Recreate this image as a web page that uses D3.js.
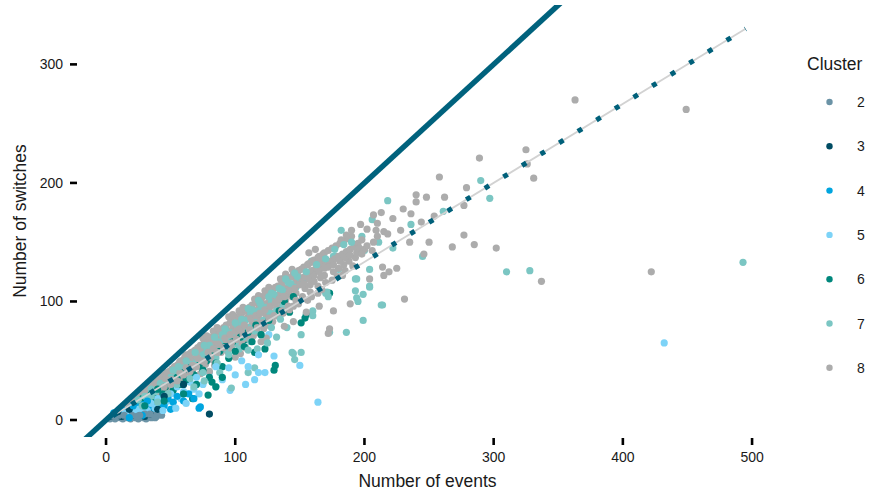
<!DOCTYPE html>
<html>
<head>
<meta charset="utf-8">
<script src="https://d3js.org/d3.v7.min.js"></script>
<style>
  body { margin: 0px; background: #fff; }
  text { font-family: "Liberation Sans", Arial, sans-serif; fill: #1a1a1a; }
</style>
</head>
<body>
<div id="my_dataviz"></div>
<script>
// cluster ids, colours and legend labels
const clusters = ["2", "3", "4", "5", "6", "7", "8"];
const clusterColors = ["#6b93a6", "#004c63", "#00a5df", "#7dd3f7", "#00877c", "#7bc6c3", "#acacac"];

const xTicks = [0, 100, 200, 300, 400, 500];
const yTicks = [0, 100, 200, 300];

// [events, switches] per cluster
const c2 = [[3,1],[5,2],[7,1],[9,3],[11,2],[13,1],[15,3],[17,2],[19,1],[21,3],[23,2],[25,1],[27,3],[29,2],[31,1],[33,3],
  [35,2],[37,4],[39,3],[41,5],[43,4],[10,4],[20,4],[30,5],[6,3],[14,4],[26,4],[38,2],[34,5],[24,3]];
const c3 = [[80,5],[5,3],[8,5],[12,3],[16,6],[22,4],[26,7],[30,3],[34,5],[40,9],[45,20],[60,30],[18,9],[9,7]];
const c4 = [[8,3],[10,6],[12,5],[14,8],[15,4],[17,7],[19,10],[20,5],[22,8],[24,6],[25,11],[27,9],[29,13],[30,7],
  [33,10],[35,8],[37,12],[40,10],[42,14],[45,12],[48,18],[52,15],[55,20],[60,16],[64,22],[72,10],[73,11],[50,9],
  [68,18],[28,4],[18,2],[6,6],[21,12],[32,16]];
const c5 = [[432,65],[164,15],[150,46],[126,72],[130,54],[115,34],[123,40],[108,30],[100,38],[96,25],[90,34],[85,28],
  [80,40],[75,30],[72,22],[68,26],[65,32],[60,24],[58,18],[55,28],[50,22],[48,16],[45,20],[42,12],[40,18],[38,10],
  [35,14],[32,8],[30,12],[28,6],[25,9],[22,5],[20,8],[18,4],[15,6],[62,14],[70,36],[85,45],[95,44],[105,50],[110,45],
  [118,55],[54,10],[44,8],[118,40]];
const c6 = [[124,89],[151,82],[173,107],[155,89],[142,91],[154,86],[101,74],[115,57],[131,46],[130,42],[79,21],
  [67,18],[123,60],[108,68],[20,10],[25,14],[28,18],[32,16],[35,22],[38,18],[40,26],[44,22],[46,28],[50,32],[52,25],
  [55,36],[58,30],[60,40],[62,34],[65,44],[68,38],[70,30],[72,46],[75,42],[78,50],[80,36],[82,55],[85,48],[88,58],
  [90,45],[92,62],[95,52],[98,66],[100,58],[104,70],[107,62],[110,74],[113,66],[116,80],[120,72],[126,84],[134,92],
  [138,100],[145,104],[82,32],[85,28],[90,36],[60,22],[45,16],[30,12]];
const c7 = [[493,133],[310,125],[328,126],[297,187],[290,202],[261,176],[245,138],[218,185],[213,97],[199,84],[186,74],
  [151,72],[206,169],[198,155],[200,143],[211,150],[178,138],[159,134],[193,119],[204,113],[194,103],[195,100],
  [171,108],[138,120],[193,109],[199,106],[204,112],[214,97],[194,119],[204,127],[144,57],[151,57],[146,51],[160,92],
  [160,88],[173,74],[172,104],[180,127],[176,138],[171,131],[151,118],[140,78],[170,107],[97,27],[115,44],[110,40],
  [145,56],[25,17],[30,20],[35,26],[38,24],[42,31],[46,30],[50,36],[55,38],[58,41],[60,44],[63,42],[66,47],[70,49],
  [72,52],[75,55],[78,58],[80,63],[84,60],[88,66],[90,72],[93,75],[95,70],[98,74],[102,78],[105,80],[108,84],[110,78],
  [112,90],[115,87],[118,92],[120,97],[124,95],[128,99],[130,106],[133,101],[136,110],[140,108],[143,115],[147,112],
  [150,120],[153,117],[156,124],[158,119],[162,126],[165,128],[168,135],[85,52],[92,60],[100,65],[106,70],[115,75],
  [122,84],[127,90],[132,92],[137,96],[48,22],[55,30],[65,35],[75,40],[86,48],[95,55],[103,60],[112,66],[120,72],
  [128,78],[135,85],[117,60],[125,65],[132,70],[110,59],[88,40],[76,33],[68,28],[40,15],[35,20],[28,12],[236,165],
  [222,145],[182,160],[105,85],[113,93],[119,99],[126,104],[134,111],[141,116],[148,121],[155,125],[163,131],
  [170,136],[177,144],[184,148],[190,150],[146,124],[139,119],[128,107],[118,101],[110,94],[100,82],[92,77],[84,70],
  [76,63],[69,57],[62,50],[56,45],[52,42]];
const c8 = [[12,9],[15,12],[17,13],[19,15],[21,14],[23,18],[26,19],[28,22],[30,23],[16,8],[24,13],[27,16],[20,10],
  [22,12],[29,18],[25,21],[13,10],[21,17],[18,6],[26,9],
  [32,25],[33,27],[36,28],[37,30],[40,32],[41,34],[44,36],[45,38],[48,39],[49,41],[32,20],[35,23],[37,25],[38,26],
  [41,29],[42,30],[45,32],[46,33],[48,35],[36,17],[39,21],[43,24],[47,27],[31,27],[34,29],[39,33],[42,37],[47,40],
  [44,26],[38,20],[34,14],[42,19],
  [51,43],[53,45],[56,47],[57,49],[60,51],[61,53],[64,54],[65,56],[68,58],[69,59],[50,37],[53,39],[55,41],[58,43],
  [59,45],[62,46],[63,48],[66,50],[67,51],[70,53],[52,31],[56,34],[59,36],[64,40],[67,42],[55,46],[58,50],[62,55],
  [66,57],[57,38],[61,42],[65,45],[69,47],[53,28],[61,33],[68,38],[54,35],[63,51],
  [71,61],[73,63],[76,65],[77,66],[80,68],[81,70],[84,71],[85,73],[88,75],[89,76],[71,55],[74,57],[75,58],[78,60],
  [79,62],[82,63],[83,65],[86,66],[87,68],[90,70],[72,49],[76,52],[79,55],[84,58],[87,61],[74,45],[77,47],[82,51],
  [85,54],[89,57],[75,69],[78,71],[83,75],[86,78],[80,41],[84,46],[73,39],
  [91,78],[93,80],[96,82],[97,83],[100,86],[101,87],[104,89],[105,90],[108,92],[109,93],[91,72],[94,74],[95,75],
  [98,77],[99,79],[102,80],[103,82],[106,83],[107,85],[110,87],[92,64],[96,67],[99,70],[104,73],[107,76],[94,58],
  [97,61],[102,64],[105,67],[109,69],[95,87],[98,89],[103,92],[106,95],[100,53],[104,56],[108,61],[93,68],[101,74],
  [111,95],[113,97],[116,99],[117,100],[120,102],[121,104],[124,105],[125,107],[128,109],[129,110],[111,89],[114,91],
  [115,92],[118,94],[119,95],[122,97],[123,98],[126,100],[127,101],[130,103],[112,79],[116,82],[119,85],[124,88],
  [127,91],[114,71],[117,74],[122,77],[125,80],[129,83],[115,102],[118,105],[123,109],[126,112],[120,66],[124,69],
  [113,84],[121,91],
  [131,112],[133,113],[136,115],[137,117],[140,118],[141,120],[144,121],[145,123],[148,124],[149,126],[131,105],
  [134,106],[135,108],[138,109],[139,111],[142,112],[143,114],[146,115],[147,117],[150,118],[132,95],[136,98],
  [139,101],[144,104],[147,107],[134,87],[137,90],[142,93],[145,96],[149,98],[135,119],[139,123],[144,127],[138,79],
  [145,83],[141,106],
  [151,127],[153,129],[156,131],[157,132],[160,134],[161,135],[164,137],[165,138],[168,140],[169,141],[151,120],
  [154,121],[155,123],[158,124],[159,126],[162,127],[163,128],[166,130],[167,131],[170,132],[154,111],[158,114],
  [161,117],[166,120],[169,122],[156,101],[159,104],[164,107],[167,110],[157,141],[162,144],[155,91],[165,96],
  [172,143],[175,145],[178,147],[181,149],[184,151],[187,153],[190,155],[174,134],[177,136],[180,138],[183,140],
  [186,142],[189,144],[192,146],[176,125],[180,128],[184,131],[188,134],[193,137],[176,92],[173,77],[172,73],
  [182,152],[186,156],[190,160],[195,149],[198,152],[183,122],[189,98],[197,165],[204,119],[196,145],[200,144],
  [206,143],[165,136],[162,132],
  [207,173],[213,175],[209,160],[215,159],[218,157],[214,129],[225,128],[219,125],[215,122],[231,102],[240,190],
  [240,184],[244,167],[202,161],[210,166],[222,170],[230,178],[236,174],[228,160],[248,188],
  [277,156],[277,181],[279,196],[289,221],[325,228],[326,216],[331,204],[337,117],[363,270],[449,262],[422,125],
  [254,172],[262,188],[268,146],[285,148],[302,145],[250,150],[258,205],[235,150],[246,140],
  [46,35],[51,34],[57,40],[62,44],[67,46],[71,52],[74,50],[79,57],[83,60],[87,64],[92,69],[96,72],[100,75],[103,77],
  [107,80],[112,86],[116,88],[119,90],[123,93],[127,96],[131,99],[134,102],[138,104],[142,109],[146,111],[150,114],
  [153,115],[157,119],[161,122],[165,125],[169,128],[172,129],[176,131],[181,134],[185,137],[189,139],[194,141],
  [198,140],[202,147],[207,150],[210,155],[175,118],[179,121],[185,126],[191,130],[170,116],[164,113],[158,108],
  [152,104],[147,101],[141,96],[136,92],[130,88],[126,86],[121,82],[117,78],[111,76],[106,72],[101,68],[97,65],
  [91,61],[86,57],[81,53],[76,49],[70,45],[65,41],[60,38],[55,33],[50,30],[45,28]];
const clusterPoints = [c2, c3, c4, c5, c6, c7, c8];

// reference lines: y = x and the fitted slope
const diagSlope = 1;
const fitSlope = 2 / 3;
const fitRange = [0, 495];

var width = 872, height = 497;
var panel = { left: 78, right: 777, top: 5, bottom: 437 };

var svg = d3.select("#my_dataviz")
  .append("svg")
  .attr("width", width)
  .attr("height", height);

var x = d3.scaleLinear().domain([-21.7, 519.3]).range([panel.left, panel.right]);
var y = d3.scaleLinear().domain([-14.34, 350.1]).range([panel.bottom, panel.top]);

svg.append("clipPath").attr("id", "clip")
  .append("rect")
  .attr("x", panel.left).attr("y", panel.top)
  .attr("width", panel.right - panel.left).attr("height", panel.bottom - panel.top);

// points, interleaved by relative position in each list so clusters mix like data order
var pts = [];
clusterPoints.forEach(function (arr, ci) {
  arr.forEach(function (p, i) { pts.push({ ev: p[0], sw: p[1], c: ci, k: (i + 0.5) / arr.length }); });
});
pts.sort(function (a, b) { return a.k - b.k || b.c - a.c; });

var plot = svg.append("g").attr("clip-path", "url(#clip)");

plot.selectAll("circle.pt")
  .data(pts)
  .enter()
  .append("circle")
  .attr("class", "pt")
  .attr("cx", function (d) { return x(d.ev); })
  .attr("cy", function (d) { return y(d.sw); })
  .attr("r", 3.6)
  .style("fill", function (d) { return clusterColors[d.c]; });

// fitted line: grey base with dark dots on top
var fitLine = d3.line().x(function (d) { return x(d); }).y(function (d) { return y(d * fitSlope); });
plot.append("path")
  .attr("d", fitLine(fitRange))
  .style("fill", "none")
  .style("stroke", "#d2d2d2")
  .style("stroke-width", 1.8);
plot.append("path")
  .attr("d", fitLine(fitRange))
  .style("fill", "none")
  .style("stroke", "#00607a")
  .style("stroke-width", 5)
  .style("stroke-dasharray", "5,16.8")
  .style("stroke-dashoffset", -8);

// y = x
var diag = x.domain();
plot.append("line")
  .attr("x1", x(diag[0])).attr("y1", y(diag[0] * diagSlope))
  .attr("x2", x(diag[1])).attr("y2", y(diag[1] * diagSlope))
  .style("stroke", "#00627d")
  .style("stroke-width", 5.5);

// axes (hand made ticks like the ggplot theme)
var xa = svg.append("g");
xa.selectAll("line").data(xTicks).enter().append("line")
  .attr("x1", function (d) { return x(d); }).attr("x2", function (d) { return x(d); })
  .attr("y1", 438).attr("y2", 445)
  .style("stroke", "#000").style("stroke-width", 2.6);
xa.selectAll("text").data(xTicks).enter().append("text")
  .attr("x", function (d) { return x(d); })
  .attr("y", 462)
  .attr("text-anchor", "middle")
  .style("font-size", "14px")
  .text(function (d) { return d; });

var ya = svg.append("g");
ya.selectAll("line").data(yTicks).enter().append("line")
  .attr("x1", 70).attr("x2", 77)
  .attr("y1", function (d) { return y(d); }).attr("y2", function (d) { return y(d); })
  .style("stroke", "#000").style("stroke-width", 2.6);
ya.selectAll("text").data(yTicks).enter().append("text")
  .attr("x", 63)
  .attr("y", function (d) { return y(d) + 5; })
  .attr("text-anchor", "end")
  .style("font-size", "14px")
  .text(function (d) { return d; });

svg.append("text")
  .attr("x", (panel.left + panel.right) / 2)
  .attr("y", 487)
  .attr("text-anchor", "middle")
  .style("font-size", "17.5px")
  .text("Number of events");

svg.append("text")
  .attr("transform", "translate(26," + ((panel.top + panel.bottom) / 2) + ") rotate(-90)")
  .attr("text-anchor", "middle")
  .style("font-size", "17.5px")
  .text("Number of switches");

// legend
var lg = svg.append("g");
lg.append("text").attr("x", 807).attr("y", 70).style("font-size", "17.5px").text("Cluster");
lg.selectAll("circle").data(clusters).enter().append("circle")
  .attr("cx", 829.5)
  .attr("cy", function (d, i) { return 102 + i * 44.3; })
  .attr("r", 3.2)
  .style("fill", function (d, i) { return clusterColors[i]; });
lg.selectAll("text.lab").data(clusters).enter().append("text")
  .attr("class", "lab")
  .attr("x", 857)
  .attr("y", function (d, i) { return 102 + i * 44.3 + 5; })
  .style("font-size", "14px")
  .text(function (d) { return d; });
</script>
</body>
</html>
